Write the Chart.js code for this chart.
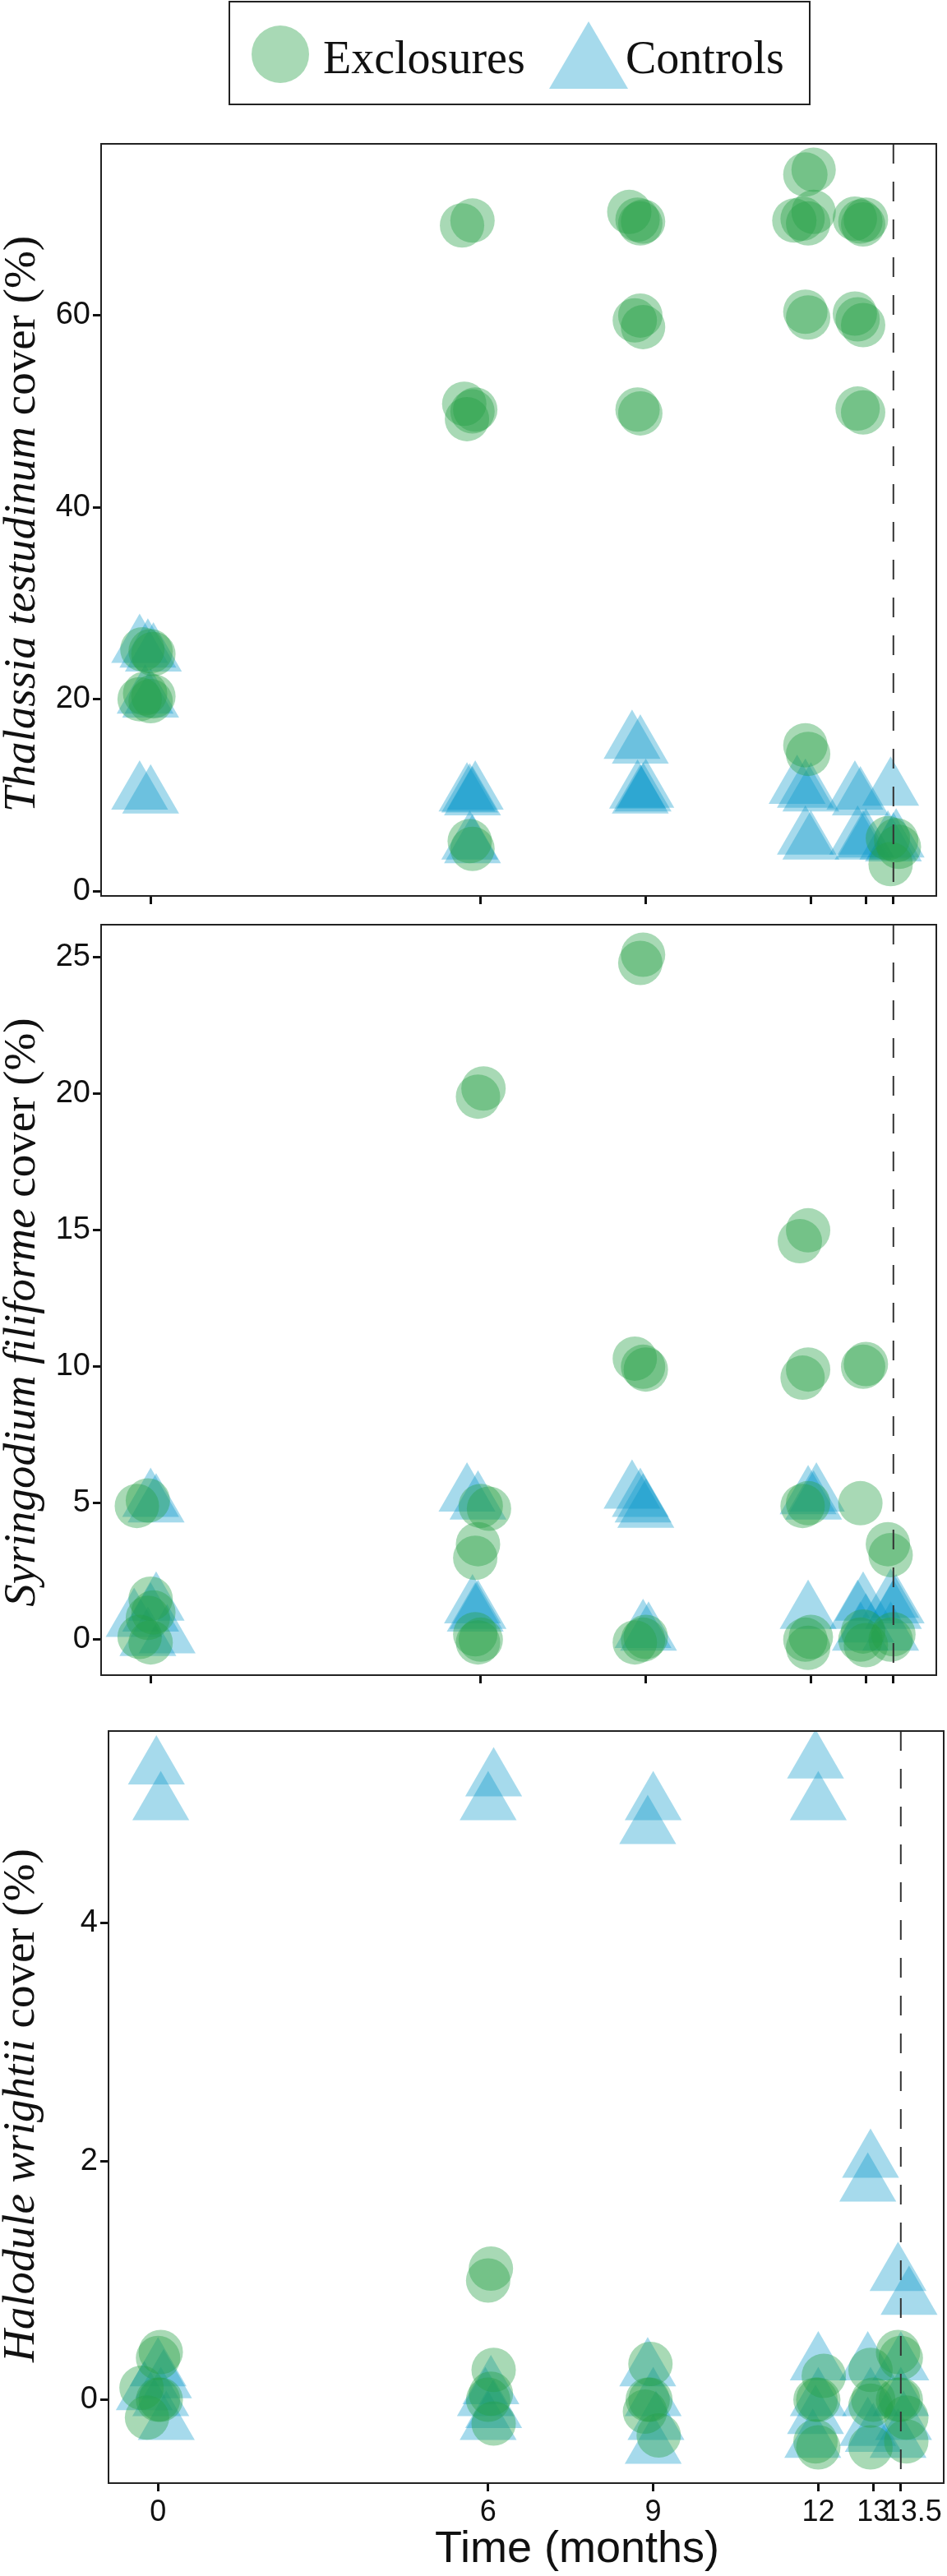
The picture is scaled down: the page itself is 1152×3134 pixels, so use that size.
<!DOCTYPE html>
<html>
<head>
<meta charset="utf-8">
<script src="https://cdn.jsdelivr.net/npm/chart.js@4.4.1/dist/chart.umd.min.js"></script>
<style>
  body { margin: 0; background: #fff; }
  #page { position: relative; width: 1152px; height: 3134px; overflow: hidden; background: #fff; }
  .panel { position: absolute; left: 0; }
  .ytitle {
    position: absolute; width: 900px; height: 55px; line-height: 55px;
    font-family: "Liberation Serif", "Times New Roman", serif; font-size: 55px;
    text-align: center; white-space: nowrap; color: #111;
    transform: rotate(-90deg);
  }
  #legend {
    position: absolute; left: 278px; top: 1px; width: 704px; height: 123px;
    border: 2px solid #222;
  }
  #legend .dot {
    position: absolute; left: 26px; top: 28px; width: 70px; height: 70px;
    border-radius: 50%; background: rgba(38, 160, 70, 0.4);
  }
  #legend svg { position: absolute; left: 388px; top: 20px; }
  #legend .lab {
    position: absolute; top: 39px; font-family: "Liberation Serif", "Times New Roman", serif;
    font-size: 56px; line-height: 56px; color: #111; white-space: nowrap;
  }
  #xtitle {
    position: absolute; left: 402px; top: 3071px; width: 600px; text-align: center;
    font-family: "Liberation Sans", Arial, sans-serif; font-size: 54px; line-height: 54px; color: #111;
  }
</style>
</head>
<body>
<div id="page">
  <div id="legend">
    <div class="dot"></div>
    <span class="lab" style="left:113px">Exclosures</span>
    <svg width="100" height="86"><polygon points="48,3 96,85 0,85" fill="rgba(0,150,200,0.35)"/></svg>
    <span class="lab" style="left:481px">Controls</span>
  </div>

  <div class="panel" id="p1"></div>
  <div class="panel" id="p2"></div>
  <div class="panel" id="p3"></div>

  <div class="ytitle" style="left:-427px;top:610px"><i>Thalassia testudinum</i> cover (%)</div>
  <div class="ytitle" style="left:-427px;top:1569px"><i>Syringodium filiforme</i> cover (%)</div>
  <div class="ytitle" style="left:-428px;top:2534px"><i>Halodule wrightii</i> cover (%)</div>

  <div id="xtitle">Time (months)</div>
</div>

<script>
// sampling times and their labels
const xTickValues = [0, 6, 9, 12, 13, 13.5];
const xTickLabels = ["0", "6", "9", "12", "13", "   13.5"];
const cutoffMonth = 13.5;

// Thalassia testudinum cover (%), points as [time (jittered), cover]
const thalassiaExcl = [
  [-0.2, 20.0], [-0.1, 20.6], [0.0, 19.8], [0.05, 20.3], [-0.15, 25.2], [0.0, 25.0], [0.05, 24.7],
  [5.66, 69.4], [5.85, 69.9], [5.7, 50.8], [5.75, 49.2], [5.85, 50.0], [5.9, 50.2], [5.8, 5.2], [5.85, 4.4],
  [8.7, 70.8], [8.85, 70.0], [8.9, 69.6], [8.95, 69.8], [8.8, 59.5], [8.9, 60.0], [8.95, 58.8], [8.85, 50.2], [8.9, 49.8],
  [11.9, 74.7], [12.05, 75.2], [11.7, 69.9], [11.85, 70.1], [11.95, 69.6], [12.05, 70.8], [11.9, 60.4], [11.95, 59.8], [11.9, 15.2], [11.95, 14.3],
  [12.8, 70.1], [12.9, 69.8], [12.95, 69.5], [13.0, 70.0], [12.8, 60.2], [12.85, 59.6], [12.95, 59.0], [12.85, 50.3], [12.95, 49.9],
  [13.4, 5.5], [13.45, 2.8], [13.55, 5.3], [13.6, 4.6]
];
const thalassiaCtrl = [
  [-0.2, 25.5], [-0.05, 25.0], [0.05, 24.6], [-0.1, 20.2], [0.0, 19.8], [-0.2, 10.2], [0.0, 9.8],
  [5.75, 10.0], [5.85, 9.6], [5.9, 10.2], [5.8, 9.9], [5.8, 5.0], [5.85, 4.6],
  [8.75, 15.5], [8.9, 15.0], [8.85, 10.3], [8.9, 9.8], [8.95, 10.0], [9.0, 10.4],
  [11.75, 10.8], [11.9, 10.4], [12.0, 10.0], [11.9, 5.5], [12.0, 5.0],
  [12.8, 10.2], [12.9, 9.6], [12.85, 5.5], [12.95, 5.0], [13.0, 5.2],
  [13.45, 10.6], [13.4, 5.0], [13.5, 4.8], [13.55, 5.2]
];

// Syringodium filiforme cover (%)
const syringodiumExcl = [
  [-0.25, 4.9], [-0.05, 5.1], [0.0, 1.5], [0.05, 1.0], [-0.05, 0.8], [-0.2, 0.1], [0.0, -0.1],
  [5.95, 19.9], [6.05, 20.2], [6.0, 4.9], [6.15, 4.8], [5.95, 3.5], [5.9, 3.0], [5.9, 0.2], [5.95, -0.1], [6.0, 0.0],
  [8.9, 24.8], [8.95, 25.1], [8.8, 10.3], [8.95, 10.0], [9.0, 9.9], [8.8, -0.1], [9.0, 0.1], [8.95, 0.0],
  [11.8, 14.6], [11.95, 15.0], [11.85, 9.6], [11.95, 9.9], [11.85, 4.9], [11.95, 5.0], [11.9, 0.0], [11.95, -0.3], [12.0, 0.1],
  [12.95, 10.0], [13.0, 10.1], [12.9, 5.0], [12.9, 0.0], [13.0, -0.2], [12.95, 0.3],
  [13.4, 3.5], [13.45, 3.1], [13.45, 0.0], [13.5, 0.2]
];
const syringodiumCtrl = [
  [0.0, 5.1], [0.1, 4.9], [0.1, 1.3], [0.0, 0.9], [-0.3, 0.7], [-0.05, 0.0], [0.3, 0.1],
  [5.75, 5.3], [5.95, 5.0], [5.85, 1.2], [5.9, 0.9], [5.95, 1.0],
  [8.75, 5.4], [8.9, 5.1], [8.95, 4.9], [9.0, 4.7], [8.95, 0.3], [9.05, 0.2],
  [11.95, 5.2], [12.05, 5.0], [12.1, 5.3], [11.95, 1.0],
  [12.85, 1.0], [12.95, 1.3], [13.0, 0.5], [12.9, 0.2],
  [13.45, 1.4], [13.5, 1.0], [13.55, 1.2], [13.45, 0.2]
];

// Halodule wrightii cover (%)
const haloduleExcl = [
  [0.05, 0.4], [0.0, 0.35], [0.0, 0.0], [0.05, 0.0], [-0.2, -0.15], [-0.3, 0.1],
  [6.05, 1.1], [6.0, 1.0], [6.0, 0.0], [6.05, 0.05], [6.1, 0.25], [6.1, -0.2],
  [8.95, 0.3], [8.9, 0.0], [8.95, 0.0], [8.85, -0.1], [9.1, -0.3],
  [11.95, 0.0], [12.0, 0.0], [12.1, 0.2], [11.95, -0.35], [12.0, -0.4],
  [12.95, 0.25], [13.0, 0.0], [12.95, -0.05], [12.95, -0.4],
  [13.45, 0.4], [13.5, 0.35], [13.45, 0.0], [13.5, 0.0], [13.6, -0.15], [13.6, -0.35]
];
const haloduleCtrl = [
  [-0.03, 5.3], [0.05, 5.0], [0.0, 0.25], [0.05, 0.0], [-0.25, 0.05], [0.15, -0.2], [0.1, 0.15],
  [6.1, 5.2], [6.0, 5.0], [6.05, 0.1], [5.95, 0.0], [6.1, -0.1], [6.0, -0.2],
  [9.0, 5.0], [8.9, 4.8], [8.9, 0.25], [9.0, 0.0], [9.05, -0.2], [9.0, -0.4],
  [11.95, 5.35], [12.0, 5.0], [12.0, 0.3], [12.0, 0.0], [11.95, -0.15], [11.9, -0.35],
  [12.95, 2.0], [12.9, 1.8], [12.9, 0.3], [12.95, 0.0], [12.9, -0.25], [13.0, -0.3],
  [13.45, 1.05], [13.65, 0.85], [13.5, 0.3], [13.5, 0.0], [13.55, -0.2], [13.45, -0.35]
];

const thalassiaTicks = [0, 20, 40, 60];
const syringodiumTicks = [0, 5, 10, 15, 20, 25];
const haloduleTicks = [0, 2, 4];

const exclColor = "rgba(38, 160, 70, 0.4)";
const ctrlColor = "rgba(0, 150, 200, 0.35)";

// box round the plot and the dashed line at the last sampling
const framePlugin = {
  id: "frame",
  afterDraw(chart) {
    const { ctx, chartArea: a, scales } = chart;
    ctx.save();
    const xd = scales.x.getPixelForValue(cutoffMonth);
    ctx.strokeStyle = "#333";
    ctx.lineWidth = 2;
    ctx.setLineDash([24, 22]);
    ctx.beginPath();
    ctx.moveTo(xd, a.top);
    ctx.lineTo(xd, a.bottom);
    ctx.stroke();
    ctx.setLineDash([]);
    ctx.strokeStyle = "#222";
    ctx.lineWidth = 2;
    ctx.strokeRect(a.left, a.top, a.right - a.left, a.bottom - a.top);
    ctx.restore();
  }
};

function toPoints(arr) {
  return arr.map(p => ({ x: p[0], y: p[1] }));
}

function crearPanel(canvas, excl, ctrl, yMin, yMax, yTicks, cfg) {
  return new Chart(canvas.getContext("2d"), {
    type: "scatter",
    data: {
      datasets: [
        {
          label: "Exclosures",
          data: toPoints(excl),
          pointStyle: "circle",
          pointRadius: 27,
          pointHoverRadius: 27,
          backgroundColor: exclColor,
          borderWidth: 0,
        },
        {
          label: "Controls",
          data: toPoints(ctrl),
          pointStyle: "triangle",
          pointRadius: 40,
          pointHoverRadius: 40,
          backgroundColor: ctrlColor,
          borderWidth: 0,
        },
      ],
    },
    options: {
      responsive: false,
      animation: false,
      events: [],
      layout: { padding: { top: 10, right: 0, left: 0, bottom: 0 } },
      plugins: { legend: { display: false }, tooltip: { enabled: false } },
      scales: {
        x: {
          type: "linear",
          min: -0.9,
          max: 14.28,
          afterBuildTicks: (s) => { s.ticks = xTickValues.map(v => ({ value: v })); },
          afterFit: (s) => { s.height = cfg.xHeight; },
          border: { display: false },
          grid: { drawOnChartArea: false, drawTicks: true, tickLength: 10, color: "#111", lineWidth: 3 },
          ticks: {
            display: cfg.showX,
            autoSkip: false,
            maxRotation: 0,
            padding: 4,
            color: "#111",
            font: { family: "'Liberation Sans', Arial, sans-serif", size: 36 },
            callback: (v) => xTickLabels[xTickValues.indexOf(v)],
          },
        },
        y: {
          type: "linear",
          min: yMin,
          max: yMax,
          afterBuildTicks: (s) => { s.ticks = yTicks.map(v => ({ value: v })); },
          afterFit: (s) => { s.width = cfg.yWidth; },
          border: { display: false },
          grid: { drawOnChartArea: false, drawTicks: true, tickLength: 10, color: "#111", lineWidth: 3 },
          ticks: {
            padding: 3,
            color: "#111",
            font: { family: "'Liberation Sans', Arial, sans-serif", size: 38 },
            callback: (v) => String(v),
          },
        },
      },
    },
    plugins: [framePlugin],
  });
}

// draw once, measure the plot area, then redraw so the plot box sits where the figure has it
function montarPanel(holderId, excl, ctrl, yMin, yMax, yTicks, cfg, box) {
  const holder = document.getElementById(holderId);
  let w = 1152, h = (box.bottom - box.top) + 10 + cfg.xHeight, top = box.top - 10;
  let chart = null;
  for (let pass = 0; pass < 2; pass++) {
    holder.innerHTML = "";
    holder.style.top = top + "px";
    holder.style.width = w + "px";
    holder.style.height = h + "px";
    const canvas = document.createElement("canvas");
    canvas.width = w;
    canvas.height = h;
    holder.appendChild(canvas);
    chart = crearPanel(canvas, excl, ctrl, yMin, yMax, yTicks, cfg);
    if (pass === 0) {
      const a = chart.chartArea;
      w += box.right - a.right;
      h += (box.bottom - box.top) - (a.bottom - a.top);
      top += box.top - (top + a.top);
      chart.destroy();
    }
  }
  return chart;
}

montarPanel("p1", thalassiaExcl, thalassiaCtrl, -0.51, 77.9, thalassiaTicks,
  { xHeight: 30, yWidth: 123, showX: false }, { top: 175, bottom: 1090, right: 1139 });
montarPanel("p2", syringodiumExcl, syringodiumCtrl, -1.3, 26.2, syringodiumTicks,
  { xHeight: 30, yWidth: 123, showX: false }, { top: 1125, bottom: 2038, right: 1139 });
montarPanel("p3", haloduleExcl, haloduleCtrl, -0.70, 5.61, haloduleTicks,
  { xHeight: 113, yWidth: 132, showX: true }, { top: 2106, bottom: 3021, right: 1148 });
</script>
</body>
</html>
